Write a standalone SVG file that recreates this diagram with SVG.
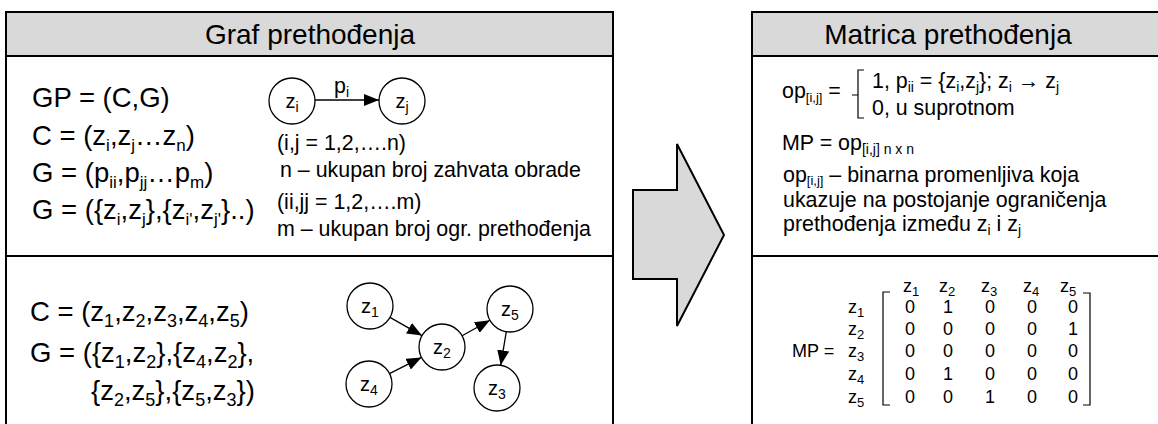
<svg xmlns="http://www.w3.org/2000/svg" width="1158" height="424" viewBox="0 0 1158 424">
<defs>
<style>
text{font-family:"Liberation Sans",Arial,sans-serif;fill:#000}
.ttl{font-size:28px;text-anchor:middle}
.f{font-size:27.5px}
.s{font-size:21.4px}
.r{font-size:21.4px}
.m{font-size:18px}
.c{font-size:20px;text-anchor:middle}
.box{fill:none;stroke:#000;stroke-width:2}
.hdr{fill:#d9d9d9;stroke:none}
.ln{stroke:#000;stroke-width:2;fill:none}
.nd{fill:#fff;stroke:#000;stroke-width:1.3}
.e{stroke:#000;stroke-width:1.3;fill:none;marker-end:url(#ah)}
.br{stroke:#000;stroke-width:1.2;fill:none}
</style>
<marker id="ah" viewBox="0 0 15 12" refX="15" refY="6" markerWidth="15" markerHeight="12" markerUnits="userSpaceOnUse" orient="auto">
<path d="M0,0 L15,6 L0,12 z" fill="#000"/>
</marker>
</defs>

<g id="left-panel">
<rect class="hdr" x="6" y="12" width="607" height="44"/>
<path class="box" d="M6,426 V12 H613 V426"/>
<line class="ln" x1="6" y1="56" x2="613" y2="56"/>
<line class="ln" x1="6" y1="256" x2="613" y2="256"/>
<text class="ttl" x="310" y="44">Graf prethođenja</text>
<text class="f" x="32" y="107">GP = (C,G)</text>
<text class="f" x="32" y="145">C = (z<tspan font-size="17" dy="6">i</tspan><tspan dy="-6">,z</tspan><tspan font-size="17" dy="6">j</tspan><tspan dy="-6">…z</tspan><tspan font-size="17" dy="6">n</tspan><tspan dy="-6">)</tspan></text>
<text class="f" x="32" y="182">G = (p<tspan font-size="17" dy="6">ii</tspan><tspan dy="-6">,p</tspan><tspan font-size="17" dy="6">jj</tspan><tspan dy="-6">…p</tspan><tspan font-size="17" dy="6">m</tspan><tspan dy="-6">)</tspan></text>
<text class="f" x="32" y="219">G = ({z<tspan font-size="17" dy="6">i</tspan><tspan dy="-6">,z</tspan><tspan font-size="17" dy="6">j</tspan><tspan dy="-6">},{z</tspan><tspan font-size="17" dy="6">i'</tspan><tspan dy="-6">,z</tspan><tspan font-size="17" dy="6">j'</tspan><tspan dy="-6">}..)</tspan></text>
<text class="s" x="277" y="150">(i,j = 1,2,….n)</text>
<text class="s" x="280" y="177">n – ukupan broj zahvata obrade</text>
<text class="s" x="277" y="209">(ii,jj = 1,2,….m)</text>
<text class="s" x="277" y="236">m – ukupan broj ogr. prethođenja</text>
<text class="f" x="30" y="321">C = (z<tspan font-size="18" dy="6">1</tspan><tspan dy="-6">,z</tspan><tspan font-size="18" dy="6">2</tspan><tspan dy="-6">,z</tspan><tspan font-size="18" dy="6">3</tspan><tspan dy="-6">,z</tspan><tspan font-size="18" dy="6">4</tspan><tspan dy="-6">,z</tspan><tspan font-size="18" dy="6">5</tspan><tspan dy="-6">)</tspan></text>
<text class="f" x="30" y="362">G = ({z<tspan font-size="18" dy="6">1</tspan><tspan dy="-6">,z</tspan><tspan font-size="18" dy="6">2</tspan><tspan dy="-6">},{z</tspan><tspan font-size="18" dy="6">4</tspan><tspan dy="-6">,z</tspan><tspan font-size="18" dy="6">2</tspan><tspan dy="-6">},</tspan></text>
<text class="f" x="91" y="400">{z<tspan font-size="18" dy="6">2</tspan><tspan dy="-6">,z</tspan><tspan font-size="18" dy="6">5</tspan><tspan dy="-6">},{z</tspan><tspan font-size="18" dy="6">5</tspan><tspan dy="-6">,z</tspan><tspan font-size="18" dy="6">3</tspan><tspan dy="-6">})</tspan></text>
</g>

<g id="node-zi"><circle class="nd" cx="292" cy="101" r="23"/><text class="c" x="292" y="108">z<tspan font-size="14" dy="4">i</tspan></text></g>
<g id="node-zj"><circle class="nd" cx="402" cy="101" r="23"/><text class="c" x="402" y="108">z<tspan font-size="14" dy="4">j</tspan></text></g>
<g id="node-z1"><circle class="nd" cx="370" cy="306" r="23"/><text class="c" x="370" y="313">z<tspan font-size="14" dy="4">1</tspan></text></g>
<g id="node-z2"><circle class="nd" cx="442" cy="347" r="23"/><text class="c" x="442" y="354">z<tspan font-size="14" dy="4">2</tspan></text></g>
<g id="node-z3"><circle class="nd" cx="497" cy="388" r="23"/><text class="c" x="497" y="395">z<tspan font-size="14" dy="4">3</tspan></text></g>
<g id="node-z4"><circle class="nd" cx="369" cy="384" r="23"/><text class="c" x="369" y="391">z<tspan font-size="14" dy="4">4</tspan></text></g>
<g id="node-z5"><circle class="nd" cx="510" cy="309" r="23"/><text class="c" x="510" y="316">z<tspan font-size="14" dy="4">5</tspan></text></g>

<g id="connectors">
<line class="e" x1="315" y1="100" x2="379" y2="100"/>
<text class="s" x="334" y="93">p<tspan font-size="14" dy="4">i</tspan></text>
<line class="e" x1="390" y1="317.4" x2="422" y2="335.6"/>
<line class="e" x1="389.5" y1="373.6" x2="421.5" y2="357.4"/>
<line class="e" x1="462.1" y1="335.8" x2="489.9" y2="320.2"/>
<line class="e" x1="506.3" y1="331.7" x2="500.7" y2="365.3"/>
</g>

<g id="big-arrow">
<path d="M633,190 H677 V144 L724,235 L677,326 V279 H633 Z" fill="#d9d9d9" stroke="#000" stroke-width="2" stroke-linejoin="miter"/>
</g>

<g id="right-panel">
<rect class="hdr" x="752" y="12" width="408" height="44"/>
<path class="box" d="M752,426 V12 H1160"/>
<line class="ln" x1="752" y1="56" x2="1160" y2="56"/>
<line class="ln" x1="752" y1="256" x2="1160" y2="256"/>
<text class="ttl" x="948" y="44">Matrica prethođenja</text>
<text class="r" x="782" y="98">op<tspan font-size="13" dy="4">[i,j]</tspan><tspan dy="-4"> =</tspan></text>
<path class="br" d="M864,70 H858 V118 H864 M858,95 H852"/>
<text class="r" x="872" y="88">1, p<tspan font-size="14" dy="4">ii</tspan><tspan dy="-4"> = {z</tspan><tspan font-size="14" dy="4">i</tspan><tspan dy="-4">,z</tspan><tspan font-size="14" dy="4">j</tspan><tspan dy="-4">}; z</tspan><tspan font-size="14" dy="4">i</tspan><tspan dy="-4"> → z</tspan><tspan font-size="14" dy="4">j</tspan></text>
<text class="r" x="872" y="115">0, u suprotnom</text>
<text class="r" x="782" y="150">MP = op<tspan font-size="14" dy="4">[i,j] n x n</tspan></text>
<text class="r" x="783" y="182">op<tspan font-size="13" dy="3">[i,j]</tspan><tspan dy="-3"> – binarna promenljiva koja</tspan></text>
<text class="r" x="783" y="207">ukazuje na postojanje ograničenja</text>
<text class="r" x="783" y="231">prethođenja između z<tspan font-size="14" dy="4">i</tspan><tspan dy="-4"> i z</tspan><tspan font-size="14" dy="4">j</tspan></text>
</g>

<g id="matrix">
<text class="m" x="792" y="357">MP =</text>
<g font-size="18">
<text x="903" y="292">z<tspan font-size="13" dy="4">1</tspan></text>
<text x="939" y="292">z<tspan font-size="13" dy="4">2</tspan></text>
<text x="981" y="292">z<tspan font-size="13" dy="4">3</tspan></text>
<text x="1023" y="292">z<tspan font-size="13" dy="4">4</tspan></text>
<text x="1060" y="292">z<tspan font-size="13" dy="4">5</tspan></text>
<text x="848" y="313">z<tspan font-size="13" dy="4">1</tspan></text>
<text x="848" y="335">z<tspan font-size="13" dy="4">2</tspan></text>
<text x="848" y="357">z<tspan font-size="13" dy="4">3</tspan></text>
<text x="848" y="380">z<tspan font-size="13" dy="4">4</tspan></text>
<text x="848" y="403">z<tspan font-size="13" dy="4">5</tspan></text>
</g>
<path class="br" d="M890,292 H883 V405 H890 M1083,293 H1090 V405 H1083"/>
<g>
<text class="m" x="905" y="313">0</text><text class="m" x="943" y="313">1</text><text class="m" x="985" y="313">0</text><text class="m" x="1027" y="313">0</text><text class="m" x="1068" y="313">0</text>
<text class="m" x="905" y="335">0</text><text class="m" x="943" y="335">0</text><text class="m" x="985" y="335">0</text><text class="m" x="1027" y="335">0</text><text class="m" x="1068" y="335">1</text>
<text class="m" x="905" y="357">0</text><text class="m" x="943" y="357">0</text><text class="m" x="985" y="357">0</text><text class="m" x="1027" y="357">0</text><text class="m" x="1068" y="357">0</text>
<text class="m" x="905" y="380">0</text><text class="m" x="943" y="380">1</text><text class="m" x="985" y="380">0</text><text class="m" x="1027" y="380">0</text><text class="m" x="1068" y="380">0</text>
<text class="m" x="905" y="403">0</text><text class="m" x="943" y="403">0</text><text class="m" x="985" y="403">1</text><text class="m" x="1027" y="403">0</text><text class="m" x="1068" y="403">0</text>
</g>
</g>
</svg>
